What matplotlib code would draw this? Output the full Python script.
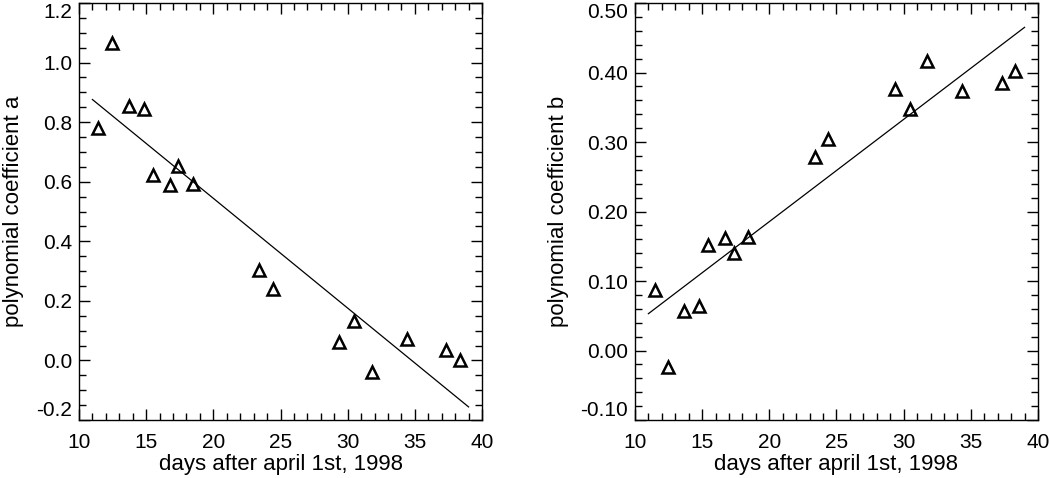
import numpy as np
import matplotlib
matplotlib.use("Agg")
import matplotlib.pyplot as plt
from matplotlib.ticker import MultipleLocator, FormatStrFormatter

# ---------------------------------------------------
# data
# ---------------------------------------------------
days_a = [11.44, 12.45, 13.72, 14.84, 15.48, 16.79, 17.39, 18.46,
          23.41, 24.41, 29.37, 30.48, 31.80, 34.42, 37.35, 38.34]
coef_a = [0.782, 1.065, 0.855, 0.844, 0.623, 0.590, 0.654, 0.594,
          0.302, 0.239, 0.063, 0.131, -0.038, 0.072, 0.035, 0.001]

days_b = [11.46, 12.43, 13.62, 14.76, 15.41, 16.72, 17.35, 18.44,
          23.38, 24.34, 29.35, 30.47, 31.71, 34.37, 37.30, 38.31]
coef_b = [0.087, -0.024, 0.057, 0.064, 0.152, 0.162, 0.140, 0.164,
          0.278, 0.305, 0.376, 0.348, 0.416, 0.373, 0.385, 0.402]

# straight fit lines (end points)
fit_days = [11.0, 39.0]
fit_a = [0.876, -0.156]
fit_b = [0.053, 0.465]

plt.rcParams["font.family"] = ["Liberation Sans", "DejaVu Sans"]

fig = plt.figure(figsize=(10.49, 4.78), dpi=100)
ax1 = fig.add_axes([0.0753, 0.1213, 0.3842, 0.8724])
ax2 = fig.add_axes([0.6053, 0.1213, 0.3842, 0.8724])


def style_axis(ax, ylim, ymajor, yminor, yfmt):
    ax.set_xlim(10, 40)
    ax.set_ylim(*ylim)
    ax.xaxis.set_major_locator(MultipleLocator(5))
    ax.xaxis.set_minor_locator(MultipleLocator(1))
    ax.yaxis.set_major_locator(MultipleLocator(ymajor))
    ax.yaxis.set_minor_locator(MultipleLocator(yminor))
    ax.yaxis.set_major_formatter(FormatStrFormatter(yfmt))
    ax.tick_params(which="both", direction="in", top=True, right=True,
                   width=1, labelsize=15)
    ax.tick_params(which="major", length=8)
    ax.tick_params(which="minor", length=5)
    ax.tick_params(axis="x", pad=9)
    ax.tick_params(axis="y", pad=5)
    for s in ax.spines.values():
        s.set_linewidth(1)
    ax.set_xlabel("days after april 1st, 1998", fontsize=16, labelpad=2)
    # keep end labels inside the plot height, like the original
    fig.canvas.draw()
    lo, hi = ylim
    for t in ax.yaxis.get_major_ticks():
        loc = t.get_loc()
        if abs(loc - lo) < 1e-6:
            t.label1.set_verticalalignment("bottom")
        elif abs(loc - hi) < 1e-6:
            t.label1.set_verticalalignment("top")


ax1.plot(days_a, coef_a, linestyle="none", marker="^", ms=8, mfc="none",
         mec="black", mew=1.8)
ax1.plot(fit_days, fit_a, color="black", lw=0.9)
style_axis(ax1, (-0.2, 1.2), 0.2, 0.05, "%.1f")
ax1.set_ylabel("polynomial coefficient a", fontsize=16, labelpad=9)

ax2.plot(days_b, coef_b, linestyle="none", marker="^", ms=8, mfc="none",
         mec="black", mew=1.8)
ax2.plot(fit_days, fit_b, color="black", lw=0.9)
style_axis(ax2, (-0.1, 0.5), 0.1, 0.02, "%.2f")
ax2.set_ylabel("polynomial coefficient b", fontsize=16, labelpad=8)

fig.savefig("out.png", dpi=100)
